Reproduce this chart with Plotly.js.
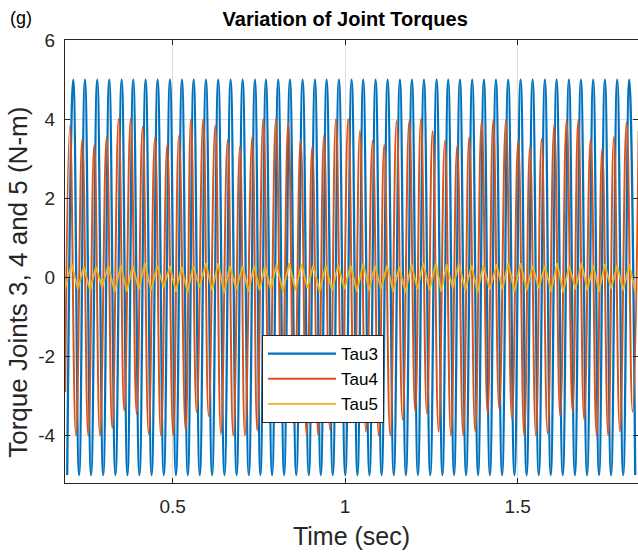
<!DOCTYPE html>
<html>
<head>
<meta charset="utf-8">
<script src="https://cdn.plot.ly/plotly-3.0.1.min.js"></script>
<style>html,body{margin:0;padding:0;background:#fff;}#chart{width:638px;height:553px;}</style>
</head>
<body>
<div id="chart"></div>
<script>
// ---- Data ----
// Tau3 (blue): extremes of the oscillation
const tau3PeakT = [0.2119,0.2458,0.2814,0.3162,0.3522,0.3858,0.4217,0.4565,0.4922,0.5270,0.5609,0.5965,0.6322,0.6681,0.7029,0.7386,0.7704,0.8061,0.8400,0.8768,0.9125,0.9464,0.9820,1.0188,1.0525,1.0884,1.1232,1.1588,1.1936,1.2284,1.2652,1.2988,1.3328,1.3684,1.4023,1.4371,1.4728,1.5087,1.5435,1.5791,1.6130,1.6487,1.6835,1.7191,1.7530,1.7887,1.8235];
const tau3PeakV = [5,5,5,5,5,5,5,5,5,5,5,5,5,5,5,5,5,5,5,5,5,5,5,5,5,5,5,5,5,5,5,5,5,5,5,5,5,5,5,5,5,5,5,5,5,5,5];
const tau3TroughT = [0.1944,0.2289,0.2636,0.2988,0.3342,0.3690,0.4038,0.4391,0.4744,0.5096,0.5440,0.5787,0.6144,0.6502,0.6855,0.7208,0.7545,0.7883,0.8231,0.8584,0.8947,0.9295,0.9642,1.0004,1.0357,1.0705,1.1058,1.1410,1.1762,1.2110,1.2468,1.2820,1.3158,1.3506,1.3854,1.4197,1.4550,1.4908,1.5261,1.5613,1.5961,1.6309,1.6661,1.7013,1.7361,1.7709,1.8061,1.8410];
const tau3TroughV = [-5,-5,-5,-5,-5,-5,-5,-5,-5,-5,-5,-5,-5,-5,-5,-5,-5,-5,-5,-5,-5,-5,-5,-5,-5,-5,-5,-5,-5,-5,-5,-5,-5,-5,-5,-5,-5,-5,-5,-5,-5,-5,-5,-5,-5,-5,-5,-5];

// Tau4 (orange)
const tau4StartT = [0.1885];
const tau4StartV = [-2.9];
const tau4PeakT = [0.2023,0.2380,0.2728,0.3087,0.3435,0.3783,0.4130,0.4487,0.4843,0.5183,0.5530,0.5887,0.6235,0.6594,0.6951,0.7307,0.7626,0.7994,0.8351,0.8710,0.9046,0.9386,0.9733,1.0090,1.0429,1.0797,1.1133,1.1493,1.1858,1.2197,1.2536,1.2893,1.3249,1.3597,1.3957,1.4293,1.4661,1.5017,1.5357,1.5696,1.6061,1.6420,1.6757,1.7116,1.7452,1.7791,1.8159,1.8510];
const tau4PeakV = [3.83,3.5,3.35,3.55,4.0,4.0,3.8,3.53,3.35,3.58,4.0,4.0,3.83,3.47,3.3,3.55,4.0,4.0,3.9,3.47,3.3,3.58,4.0,4.0,3.7,3.45,3.35,3.95,3.95,4.0,3.7,3.45,3.33,3.55,3.95,3.97,3.97,3.45,3.3,3.5,3.85,3.97,3.97,3.5,3.25,3.55,3.92,3.7];
const tau4TroughT = [0.2197,0.2554,0.2893,0.3249,0.3597,0.3957,0.4304,0.4661,0.5017,0.5377,0.5696,0.6043,0.6400,0.6757,0.7096,0.7452,0.7806,0.8168,0.8525,0.8884,0.9220,0.9559,0.9907,1.0264,1.0603,1.0971,1.1307,1.1667,1.2032,1.2371,1.2710,1.3067,1.3423,1.3771,1.4130,1.4467,1.4835,1.5191,1.5530,1.5870,1.6235,1.6594,1.6930,1.7290,1.7626,1.7965,1.8333];
const tau4TroughV = [-4,-4,-4,-3.81,-3.37,-3.45,-3.96,-4,-4,-3.87,-3.41,-3.51,-3.96,-4,-4,-3.87,-3.4,-3.45,-3.75,-4,-4,-3.85,-3.4,-3.5,-3.9,-4,-4,-3.6,-3.4,-3.45,-3.9,-4,-4,-3.9,-3.45,-3.33,-3.58,-4,-4,-3.95,-3.5,-3.4,-3.6,-4,-4,-3.9,-3.4];

// Tau5 (yellow)
const tau5StartT = [0.1890];
const tau5StartV = [-0.25];
const tau5PeakT = [0.2072,0.2429,0.2777,0.3133,0.3501,0.3841,0.4197,0.4554,0.4922,0.5261,0.5597,0.5965,0.6322,0.6661,0.7029,0.7365,0.7675,0.8014,0.8380,0.8739,0.9075,0.9443,0.9800,1.0159,1.0525,1.0864,1.1220,1.1568,1.1928,1.2264,1.2632,1.2942,1.3299,1.3667,1.4003,1.4391,1.4728,1.5087,1.5435,1.5791,1.6148,1.6496,1.6855,1.7191,1.7530,1.7887,1.8235];
const tau5PeakV = [0.35,0.27,0.27,0.30,0.30,0.30,0.36,0.30,0.28,0.26,0.28,0.36,0.36,0.28,0.28,0.30,0.28,0.32,0.36,0.34,0.30,0.30,0.32,0.30,0.36,0.30,0.30,0.26,0.32,0.36,0.36,0.33,0.36,0.30,0.30,0.33,0.36,0.36,0.30,0.30,0.36,0.30,0.36,0.30,0.33,0.30,0.33];
const tau5TroughT = [0.2251,0.2603,0.2955,0.3317,0.3671,0.4019,0.4376,0.4738,0.5092,0.5429,0.5781,0.6144,0.6492,0.6845,0.7197,0.7520,0.7845,0.8197,0.8560,0.8907,0.9259,0.9622,0.9980,1.0342,1.0695,1.1042,1.1394,1.1748,1.2096,1.2448,1.2787,1.3121,1.3483,1.3835,1.4197,1.4560,1.4908,1.5261,1.5613,1.5970,1.6322,1.6676,1.7023,1.7361,1.7709,1.8061,1.8410];
const tau5TroughV = [-0.29,-0.33,-0.25,-0.36,-0.36,-0.31,-0.33,-0.25,-0.36,-0.38,-0.25,-0.33,-0.39,-0.31,-0.36,-0.33,-0.30,-0.36,-0.33,-0.28,-0.36,-0.34,-0.30,-0.36,-0.33,-0.28,-0.36,-0.38,-0.30,-0.33,-0.36,-0.28,-0.33,-0.38,-0.31,-0.30,-0.36,-0.33,-0.28,-0.36,-0.38,-0.30,-0.33,-0.36,-0.28,-0.33,-0.36];

const seriesNames = ['Tau3','Tau4','Tau5'];
const xTickVals = [0.5, 1, 1.5];
const xTickText = ['0.5', '1', '1.5'];
const yTickVals = [-4, -2, 0, 2, 4, 6];
const yTickText = ['-4', '-2', '0', '2', '4', '6'];

// ---- merge extremes into ordered series ----
function merge(groups) {
  const pts = [];
  groups.forEach(([ts, vs]) => ts.forEach((t, i) => pts.push([t, vs[i]])));
  pts.sort((a, b) => a[0] - b[0]);
  return {x: pts.map(p => p[0]), y: pts.map(p => p[1])};
}
const s3 = merge([[tau3PeakT, tau3PeakV], [tau3TroughT, tau3TroughV]]);
const s4 = merge([[tau4StartT, tau4StartV], [tau4PeakT, tau4PeakV], [tau4TroughT, tau4TroughV]]);
const s5 = merge([[tau5StartT, tau5StartV], [tau5PeakT, tau5PeakV], [tau5TroughT, tau5TroughV]]);

const colors = ['#0072BD', '#D95319', '#EDB120'];
const traces = [
  {x: s3.x, y: s3.y, name: seriesNames[0], type: 'scatter', mode: 'lines',
   line: {color: colors[0], width: 2.3, shape: 'spline', smoothing: 1.3}},
  {x: s4.x, y: s4.y, name: seriesNames[1], type: 'scatter', mode: 'lines',
   line: {color: colors[1], width: 2, shape: 'spline', smoothing: 1.3}},
  {x: s5.x, y: s5.y, name: seriesNames[2], type: 'scatter', mode: 'lines',
   line: {color: colors[2], width: 1.8, shape: 'linear'}}
];

const axisCommon = {
  ticks: 'inside', ticklen: 5, tickwidth: 1, tickcolor: '#262626',
  showline: true, linecolor: '#262626', linewidth: 1, mirror: 'ticks',
  showgrid: true, gridcolor: '#dedede', gridwidth: 1, zeroline: false,
  tickfont: {size: 19, color: '#262626'}, automargin: false
};

const layout = {
  width: 638, height: 553,
  margin: {l: 65, r: 0, t: 40, b: 70, pad: 0},
  paper_bgcolor: '#ffffff', plot_bgcolor: '#ffffff',
  font: {family: '"Liberation Sans", Arial, sans-serif', color: '#262626'},
  title: {text: 'Variation of Joint Torques', font: {size: 20, color: '#000000', weight: 700},
          xref: 'paper', x: 0.489, xanchor: 'center', yref: 'container', y: 0.965, yanchor: 'middle'},
  xaxis: Object.assign({}, axisCommon, {
    range: [0.188, 1.849], tickmode: 'array', tickvals: xTickVals, ticktext: xTickText,
    ticklabelstandoff: 6,
    title: {text: 'Time (sec)', font: {size: 25, color: '#262626'}, standoff: 11}
  }),
  yaxis: Object.assign({}, axisCommon, {
    range: [-5.2, 6], tickmode: 'array', tickvals: yTickVals, ticktext: yTickText,
    ticklabelstandoff: 5
  }),
  showlegend: true,
  legend: {x: 0.3438, y: 0.334, xanchor: 'left', yanchor: 'top', bgcolor: '#ffffff',
           bordercolor: '#262626', borderwidth: 1, font: {size: 17, color: '#000000'},
           itemwidth: 68, tracegroupgap: 0},
  annotations: [
    {text: '(g)', xref: 'paper', yref: 'paper', x: -0.1, y: 1.05,
     xanchor: 'left', yanchor: 'middle', showarrow: false, font: {size: 18, color: '#000000'}},
    {text: 'Torque Joints 3, 4 and 5 (N-m)', xref: 'paper', yref: 'paper', x: -0.082, y: 0.452,
     xanchor: 'center', yanchor: 'middle', textangle: -90, showarrow: false,
     font: {size: 26, color: '#262626'}}
  ]
};

Plotly.newPlot('chart', traces, layout, {staticPlot: true, displayModeBar: false});
</script>
</body>
</html>
